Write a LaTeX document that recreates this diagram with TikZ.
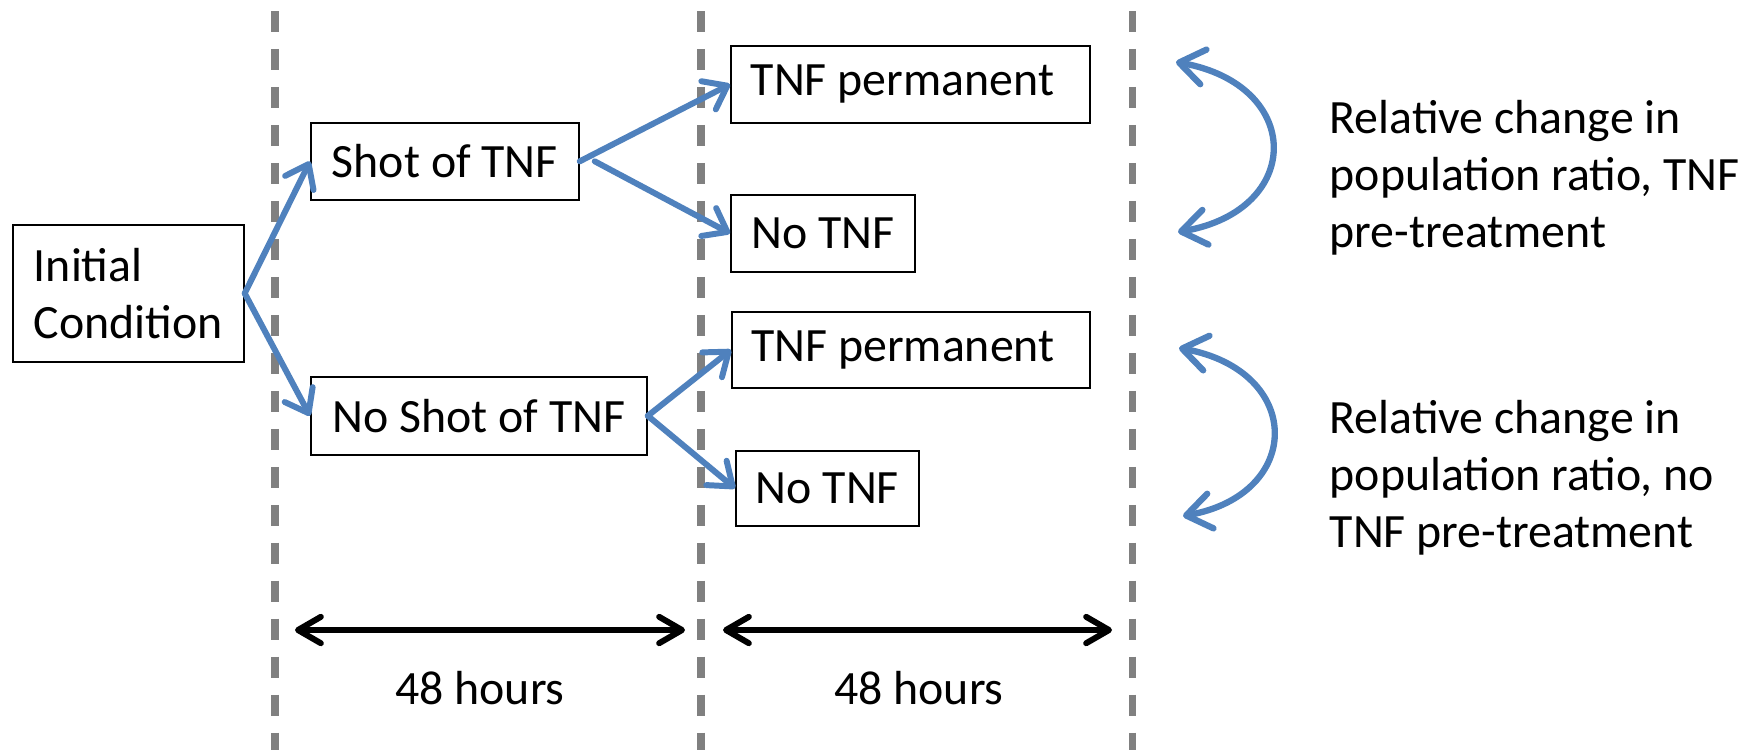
\documentclass[tikz,border=0pt]{standalone}
\usepackage{fontspec}
\setmainfont{Carlito}
\usetikzlibrary{arrows.meta}
\definecolor{flowblue}{RGB}{79,129,189}
\definecolor{dashgray}{RGB}{128,128,128}
\begin{document}
\begin{tikzpicture}[x=0.01cm,y=-0.01cm,
  txt/.style={font=\fontsize{13.6}{16.2}\selectfont},
  box/.style 2 args={txt, draw=black, line width=0.45pt, anchor=north west,
    inner sep=0pt, align=left, minimum width=#1, minimum height=#2},
  vline/.style={draw=dashgray, line width=2pt, dash pattern=on 6pt off 4.8pt},
  flow/.style={draw=flowblue, line width=1.7pt, line cap=round, line join=round,
    -{Straight Barb[length=6pt,width=9pt,line cap=round,line join=round]}},
  bothflow/.style={draw=flowblue, line width=1.8pt, line cap=round, line join=round,
    {Straight Barb[length=7pt,width=10pt,line cap=round,line join=round]}-{Straight Barb[length=7pt,width=10pt,line cap=round,line join=round]}},
  span/.style={draw=black, line width=1.7pt, line cap=round,
    {Straight Barb[length=6.5pt,width=7.5pt,line cap=round,line join=round]}-{Straight Barb[length=6.5pt,width=7.5pt,line cap=round,line join=round]}},
  side/.style={txt, align=left, anchor=west, inner sep=0pt}
]
\useasboundingbox (0,0) rectangle (1758,750);

% dashed time separators
\coordinate (d1t) at (275,11);  \coordinate (d1b) at (275,750);
\coordinate (d2t) at (701,11);  \coordinate (d2b) at (701,750);
\coordinate (d3t) at (1132,11); \coordinate (d3b) at (1132,750);
\draw[vline] (d1t) -- (d1b);
\draw[vline] (d2t) -- (d2b);
\draw[vline] (d3t) -- (d3b);

% boxes
\node[box={2.31cm}{1.37cm}] (init)   at (12,224)  {Initial\\Condition};
\node[box={2.68cm}{0.77cm}] (shot)   at (310,122) {Shot of TNF};
\node[box={3.36cm}{0.78cm}] (noshot) at (310,376) {No Shot of TNF};
\node[box={3.59cm}{0.77cm}] (tnfp1)  at (730,45)  {TNF permanent\kern0.16cm};
\node[box={1.84cm}{0.77cm}] (notnf1) at (730,194) {No TNF};
\node[box={3.58cm}{0.76cm}] (tnfp2)  at (731,311) {TNF permanent\kern0.16cm};
\node[box={1.83cm}{0.75cm}] (notnf2) at (735,450) {No TNF};

% branching arrows
\draw[flow] (init.east) -- (shot.west);
\draw[flow] (init.east) -- (noshot.west);
\draw[flow] (shot.east) -- (tnfp1.west);
\draw[flow] ([xshift=0.15cm]shot.east) -- (notnf1.west);
\draw[flow] (noshot.east) -- (tnfp2.west);
\draw[flow] (noshot.east) -- (notnf2.west);

% comparison arcs
\coordinate (a1s) at (1176,62);  \coordinate (a1e) at (1178,232);
\coordinate (a2s) at (1179,348); \coordinate (a2e) at (1183,516);
\draw[bothflow] (a1s) .. controls (1304,85) and (1304,210) .. (a1e);
\draw[bothflow] (a2s) .. controls (1304,371) and (1304,494) .. (a2e);

\node[side] (rel1) at (1329,178) {Relative change in\\population ratio, TNF\\pre-treatment};
\node[side] (rel2) at (1329,478) {Relative change in\\population ratio, no\\TNF pre-treatment};

% time spans
\coordinate (s1a) at (295,630);  \coordinate (s1b) at (685,630);
\coordinate (s2a) at (723,630);  \coordinate (s2b) at (1112,630);
\draw[span] (s1a) -- (s1b);
\draw[span] (s2a) -- (s2b);
\node[txt] (h1) at (480,688) {48 hours};
\node[txt] (h2) at (919,688) {48 hours};
\end{tikzpicture}
\end{document}
